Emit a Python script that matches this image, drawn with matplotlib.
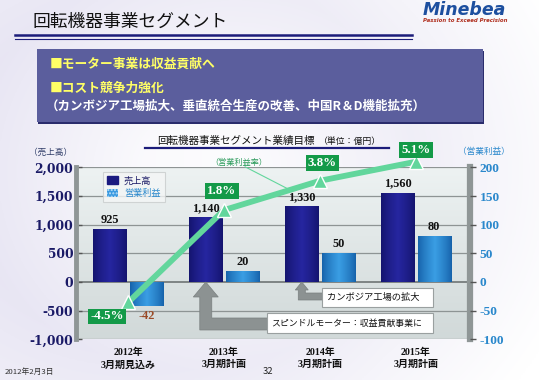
import numpy as np
import matplotlib
matplotlib.use("Agg")
import matplotlib.pyplot as plt
from matplotlib.patches import Rectangle, Polygon, Patch

plt.rcParams['font.family'] = ['Noto Sans CJK JP', 'DejaVu Sans']
plt.rcParams['axes.unicode_minus'] = False

# ---------------- data ----------------
categories = ["2012年\n3月期見込み", "2013年\n3月期計画", "2014年\n3月期計画", "2015年\n3月期計画"]
sales = [925, 1140, 1330, 1560]            # 売上高 (億円), left axis
op_profit = [-42, 20, 50, 80]              # 営業利益 (億円), right axis
op_margin = [-4.5, 1.8, 3.8, 5.1]          # 営業利益率 (%)
left_ticks = [-1000, -500, 0, 500, 1000, 1500, 2000]
right_ticks = [-100, -50, 0, 50, 100, 150, 200]

W, H = 539, 380
fig = plt.figure(figsize=(W / 100, H / 100), dpi=100)

# ---------------- background ----------------
bg = fig.add_axes([0, 0, 1, 1], zorder=-10)
yy, xx = np.mgrid[0:1:200j, 0:1:280j]
r = np.sqrt((xx - 0.35) ** 2 + ((yy - 0.45) * 0.8) ** 2)
v = np.clip(1 - np.abs(r - 0.42) * 3.0, 0, 1) * 0.6 + np.clip(1 - xx * 1.4, 0, 1) * 0.3
c_white = np.array([1.0, 1.0, 1.0])
c_lav = np.array([0.90, 0.89, 0.95])
img = c_white[None, None, :] * (1 - v[..., None]) + c_lav[None, None, :] * v[..., None]
bg.imshow(img, extent=[0, 1, 0, 1], aspect='auto', origin='upper')
bg.set_xlim(0, 1); bg.set_ylim(0, 1); bg.axis('off')

def px(x, y):
    return x / W, 1 - y / H

# ---------------- header ----------------
fig.text(*px(33, 22), "回転機器事業セグメント", fontsize=12.8, color='#111111', va='center', ha='left')
fig.add_artist(plt.Line2D([15 / W, 412 / W], [1 - 34.5 / H] * 2, color='#1c1c7a', lw=1.8))
fig.add_artist(plt.Line2D([15 / W, 412 / W], [1 - 39 / H] * 2, color='#1c1c7a', lw=0.8))
fig.text(*px(464, 10), "Minebea", fontsize=12.5, color='#1d4f9f', fontweight='bold',
         fontstyle='italic', family=['DejaVu Sans'], ha='center', va='center')
fig.text(*px(465, 20.5), "Passion to Exceed Precision", fontsize=3.9, color='#b03020',
         fontweight='bold', fontstyle='italic', family=['DejaVu Sans'], ha='center', va='center')

# blue box
fig.add_artist(Rectangle(px(38, 124), 446 / W, 73 / H, transform=fig.transFigure,
                         facecolor='#2a2c6c', edgecolor='none', zorder=1))
fig.add_artist(Rectangle(px(37, 122), 446 / W, 73 / H, transform=fig.transFigure,
                         facecolor='#5b5e9d', edgecolor='none', zorder=2))
fig.text(*px(50, 64), "■モーター事業は収益貢献へ", fontsize=9.2, color='#ffff66',
         fontweight='bold', va='center', zorder=3)
fig.text(*px(50, 88), "■コスト競争力強化", fontsize=9.2, color='#ffff66',
         fontweight='bold', va='center', zorder=3)
fig.text(*px(46, 106), "（カンボジア工場拡大、垂直統合生産の改善、中国R＆D機能拡充）", fontsize=9.0,
         color='#ffffff', fontweight='bold', va='center', zorder=3)

# chart title
fig.text(*px(157, 141), "回転機器事業セグメント業績目標", fontsize=7.6, color='#111111', va='center')
fig.text(*px(319, 141), "（単位：億円）", fontsize=6.4, color='#111111', va='center')
fig.add_artist(plt.Line2D([145 / W, 389 / W], [1 - 148 / H] * 2, color='#1c1c7a', lw=1.6))

fig.text(*px(51, 152), "（売上高）", fontsize=6.2, color='#2c3a66', ha='center', va='center')
fig.text(*px(484, 151), "（営業利益）", fontsize=6.2, color='#2a88cc', ha='center', va='center')

# ---------------- main axes ----------------
ax_l, ax_r, ax_t, ax_b = 76, 470, 167.4, 339.3
ax = fig.add_axes([ax_l / W, 1 - ax_b / H, (ax_r - ax_l) / W, (ax_b - ax_t) / H])
ax.set_xlim(-0.542, 3.5625)
ax.set_ylim(-1000, 2000)

# plot-area gradient (back wall)
grad = np.linspace(0, 1, 100)[:, None]
top_c = np.array([0.93, 0.95, 0.95]); bot_c = np.array([0.82, 0.85, 0.85])
wall = top_c[None, None, :] * (1 - grad[..., None]) + bot_c[None, None, :] * grad[..., None]
ax.imshow(wall, extent=[-0.542, 3.5625, -1000, 2000], aspect='auto', origin='upper', zorder=0)
ax.set_facecolor('#dde2e2')

for t in left_ticks:
    ax.axhline(t, color='#8e9494' if t != 0 else '#6e7474', lw=0.9 if t != 0 else 1.2, zorder=1)

x = np.arange(len(categories))
bw = 0.345
off = 0.19

def gradient_bar(rect, c_edge, c_mid):
    xx0, yy0 = rect.get_x(), rect.get_y()
    w, h = rect.get_width(), rect.get_height()
    g = np.linspace(-1, 1, 50)
    t = (1 - np.abs(g)) ** 0.8
    ce, cm = np.array(matplotlib.colors.to_rgb(c_edge)), np.array(matplotlib.colors.to_rgb(c_mid))
    im = ce[None, :] * (1 - t[:, None]) + cm[None, :] * t[:, None]
    im = im[None, :, :]
    y0, y1 = sorted([yy0, yy0 + h])
    imh = ax.imshow(im, extent=[xx0, xx0 + w, y0, y1], aspect='auto', zorder=3)
    imh.set_clip_path(rect)

bars_s = ax.bar(x - off, sales, width=bw, color='#1a1a80', zorder=2)
bars_p = ax.bar(x + off, np.array(op_profit) * 10, width=bw, color='#1f78c0', zorder=2)
for b in bars_s:
    gradient_bar(b, '#14146e', '#2626a0')
for b in bars_p:
    gradient_bar(b, '#1662aa', '#3a9ee4')

ax.set_xticks(x)
ax.set_xticklabels(categories, fontsize=7.2, fontweight='bold', linespacing=1.45,
                   family=['Liberation Serif', 'Noto Sans CJK JP'], color='#111111')
ax.tick_params(axis='x', length=0, pad=6)
ax.set_yticks(left_ticks)
ax.set_yticklabels([f"{t:,}" for t in left_ticks], fontsize=8.8, fontweight='bold',
                   family=['DejaVu Serif'], color='#1a1a66')
ax.tick_params(axis='y', length=4, direction='in', color='#555555', width=1, pad=2)
for s in ['top', 'bottom']:
    ax.spines[s].set_visible(False)
ax.spines['left'].set_color('#8f9696'); ax.spines['left'].set_linewidth(3.5)
ax.spines['right'].set_color('#8f9696'); ax.spines['right'].set_linewidth(4.5)

ax2 = ax.twinx()
ax2.set_ylim(-100, 200)
ax2.set_yticks(right_ticks)
ax2.set_yticklabels([str(t) for t in right_ticks], fontsize=9.6, fontweight='bold',
                    family=['Liberation Serif'], color='#2a88cc')
ax2.tick_params(axis='y', length=4, color='#555555', width=1, pad=3)
for s in ax2.spines.values():
    s.set_visible(False)

# value labels
for b, v in zip(bars_s, sales):
    ax.annotate(f"{v:,}", (b.get_x() + b.get_width() / 2, v), xytext=(0, 3),
                textcoords='offset pixels', ha='center', va='bottom', fontsize=8.8,
                fontweight='bold', family=['Liberation Serif'], color='#111111', zorder=6)
for b, v in zip(bars_p, op_profit):
    if v >= 0:
        ax.annotate(f"{v}", (b.get_x() + b.get_width() / 2, v * 10), xytext=(0, 3),
                    textcoords='offset pixels', ha='center', va='bottom', fontsize=8.8,
                    fontweight='bold', family=['Liberation Serif'], color='#111111', zorder=6)
    else:
        ax.annotate(f"{v}", (b.get_x() + b.get_width() / 2, v * 10), xytext=(0, -4),
                    textcoords='offset pixels', ha='center', va='top', fontsize=8.8,
                    fontweight='bold', family=['Liberation Serif'], color='#9a4a26', zorder=6)

# gray arrows and annotation boxes
arrow_c = '#8c9292'
def l_arrow(xt, head_w, head_h, shaft_w, bottom, x_end):
    sy = 17.45  # data units per pixel
    hw, sw = head_w / 96, shaft_w / 96
    pts = [(xt, 0), (xt + hw / 2, -head_h * sy), (xt + sw / 2, -head_h * sy),
           (xt + sw / 2, -(bottom - shaft_w) * sy), (x_end, -(bottom - shaft_w) * sy),
           (x_end, -bottom * sy), (xt - sw / 2, -bottom * sy), (xt - sw / 2, -head_h * sy),
           (xt - hw / 2, -head_h * sy)]
    ax.add_patch(Polygon(pts, closed=True, facecolor=arrow_c, edgecolor='#7a8080', lw=0.5, zorder=4))

l_arrow(x[1] - off, 25, 15, 12, 48, 1.47)
l_arrow(x[2] - off, 13, 8, 7, 18, 2.04)

ax.add_patch(Rectangle((2.02, -436), 1.16, 331, facecolor='white', edgecolor='#9aa0a0', lw=0.8, zorder=5))
ax.text(2.07, -270, "カンボジア工場の拡大", fontsize=6.7, va='center', ha='left', color='#111111', zorder=6)
ax.add_patch(Rectangle((1.45, -890), 1.73, 349, facecolor='white', edgecolor='#9aa0a0', lw=0.8, zorder=5))
ax.text(1.49, -715, "スピンドルモーター：収益貢献事業に", fontsize=6.4, va='center', ha='left',
        color='#111111', zorder=6)

# operating margin line (own scale)
ax3 = ax.twinx()
ax3.set_ylim(-7.012, 4.711)
ax3.axis('off')
ax3.plot(x, op_margin, color='#62d69c', lw=4.2, solid_capstyle='butt', zorder=7, clip_on=False)
ax3.plot(x, op_margin, linestyle='none', marker='^', ms=9.5, mfc='#62d69c', mec='white',
         mew=1.0, zorder=8, clip_on=False)
lab_off = [(-21, -14), (-2, 19), (2, 18), (0, 12)]
for xi, m, (dx, dy) in zip(x, op_margin, lab_off):
    ax3.annotate(f"{m}%", (xi, m), xytext=(dx, dy), textcoords='offset pixels',
                 ha='center', va='center', fontsize=9.3, fontweight='bold',
                 family=['Liberation Serif'], color='white', zorder=9, annotation_clip=False,
                 bbox=dict(boxstyle='square,pad=0.15', fc='#139a48', ec='none'))
# leader for (営業利益率)
ax.plot([1.22, 1.66], [2010, 1630], color='#62d69c', lw=0.8, zorder=6, clip_on=False)
ax.text(1.15, 2080, "（営業利益率）", fontsize=5.9, color='#2a9a5a', ha='center', va='center',
        clip_on=False)

# legend
handles = [Patch(facecolor='#1a1a80', edgecolor='#1a1a80'),
           Patch(facecolor='#3a9ae0', edgecolor='#bfe0f8', hatch='.....', lw=0)]
leg = fig.legend(handles, ["売上高", "営業利益"], loc='upper left',
                 bbox_to_anchor=(98 / W, 1 - 167 / H), fontsize=6.6, frameon=True,
                 handlelength=1.2, handleheight=1.0, handletextpad=0.6, borderpad=0.5,
                 labelspacing=0.35, fancybox=False)
leg.get_frame().set_facecolor('#f4f6f6'); leg.get_frame().set_edgecolor('#c8cccc')
leg.get_frame().set_linewidth(0.8)
leg.get_texts()[0].set_color('#1a1a66')
leg.get_texts()[1].set_color('#2a88cc')

# footer
fig.text(*px(5, 372), "2012年2月3日", fontsize=5.6, fontstyle='italic', color='#333333', va='center')
fig.text(*px(268, 372), "32", fontsize=6.8, color='#222222', ha='center', va='center')

fig.savefig("out.png", dpi=100)
